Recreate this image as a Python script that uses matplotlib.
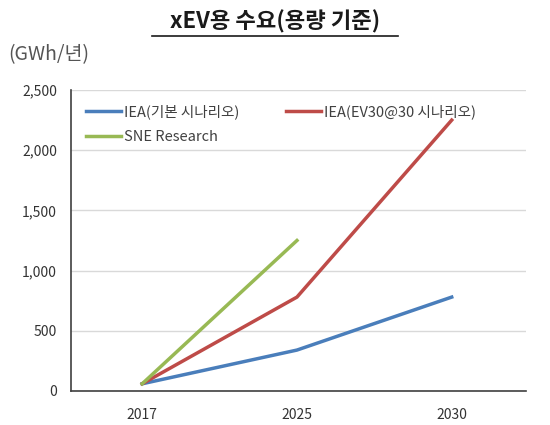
import numpy as np
import matplotlib.pyplot as plt
from matplotlib.ticker import FuncFormatter

plt.rcParams['font.family'] = ['Noto Sans CJK KR', 'DejaVu Sans']

years = ['2017', '2025', '2030']
iea_base = [60, 340, 780]
iea_ev3030 = [60, 780, 2250]
sne = [60, 1250, np.nan]

fig = plt.figure(figsize=(5.5, 4.25), dpi=100)
ax = fig.add_axes([71 / 550, 1 - 391 / 425, (526 - 71) / 550, (391 - 90) / 425])

x = np.arange(len(years))
l1, = ax.plot(x, iea_base, color='#4a7ebb', lw=2.5, label='IEA(기본 시나리오)')
l2, = ax.plot(x, iea_ev3030, color='#be4b48', lw=2.5, label='IEA(EV30@30 시나리오)')
l3, = ax.plot(x, sne, color='#98b954', lw=2.5, label='SNE Research')

ax.set_xlim(-0.46, 2.48)
ax.set_ylim(0, 2500)
ax.set_xticks(x)
ax.set_xticklabels(years)
ax.set_yticks(np.arange(0, 2501, 500))
ax.yaxis.set_major_formatter(FuncFormatter(lambda v, p: f'{int(v):,}'))
ax.grid(axis='y', color='#d9d9d9', lw=1)
ax.set_axisbelow(True)
for s in ['top', 'right']:
    ax.spines[s].set_visible(False)
for s in ['left', 'bottom']:
    ax.spines[s].set_color('#404040')
    ax.spines[s].set_linewidth(1.2)
ax.tick_params(length=0, labelsize=10, colors='#333333')
ax.tick_params(axis='x', pad=12)
ax.tick_params(axis='y', pad=10)

# column-major fill, so order gives rows: base | ev30, sne
ax.legend([l1, l3, l2], [l1.get_label(), l3.get_label(), l2.get_label()],
          loc='upper left', bbox_to_anchor=(0.01, 0.985), ncol=2, frameon=False,
          fontsize=10.5, handlelength=2.4, handletextpad=0.2, columnspacing=3.2,
          labelspacing=0.75, labelcolor='#404040', borderaxespad=0.3)

fig.text(0.5, 1 - 22 / 425, 'xEV용 수요(용량 기준)', ha='center', va='center',
         fontsize=16, fontweight='bold', color='#1a1a1a')
fig.add_artist(plt.Line2D([152 / 550, 398 / 550], [1 - 36 / 425, 1 - 36 / 425],
                          color='#1a1a1a', lw=1.2))
fig.text(8 / 550, 1 - 55 / 425, '(GWh/년)', ha='left', va='center',
         fontsize=14, color='#555555')

fig.savefig('out.png', dpi=100)
